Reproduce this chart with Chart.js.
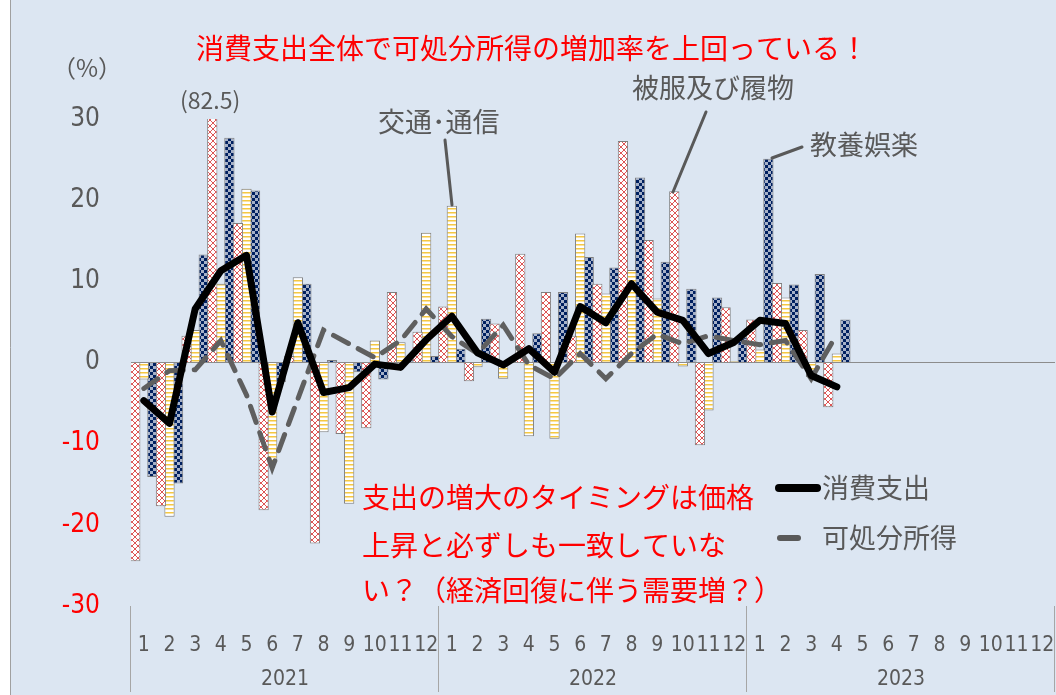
<!DOCTYPE html>
<html lang="ja">
<head>
<meta charset="utf-8">
<title>消費支出と可処分所得</title>
<script src="https://cdn.jsdelivr.net/npm/chart.js@4.4.0/dist/chart.umd.min.js"></script>
<style>
  html, body { margin: 0; padding: 0; background: #ffffff; }
  #wrap { width: 1056px; height: 695px; position: relative; }
</style>
</head>
<body>
<div id="wrap"><canvas id="myChart" width="1056" height="695"></canvas></div>
<script>
// 月ラベル (2021〜2023)
const months = ['1','2','3','4','5','6','7','8','9','10','11','12'];
const labels = [...months, ...months, ...months];
const years = ['2021', '2022', '2023'];
const yTicks = [-30, -20, -10, 0, 10, 20, 30];

// 前年同月比 (%)
const clothing = [-24.5, -17.7, 3.3, 82.5, 17.2, -18.2, 0.8, -22.3, -8.8, -8.1, 8.7, 3.8,
                  6.9, -2.3, 4.8, 13.4, 8.7, 3.3, 9.7, 27.3, 15.1, 21.1, -10.2, 6.8,
                  5.3, 9.8, 4.0, -5.5];
const transport = [-2.1, -19.0, 4.0, 9.7, 21.4, -12.3, 10.5, -8.6, -17.4, 2.7, 2.5, 16.0,
                   19.3, -0.6, -2.0, -9.1, -9.4, 15.9, 8.5, 11.4, 7.9, -0.5, -5.9, 0.2,
                   1.6, 8.0, -1.8, 1.1];
const culture = [-14.1, -14.9, 13.3, 27.7, 21.2, -2.4, 9.7, 0.3, -1.2, -2.1, 0.3, 0.8,
                 1.7, 5.4, 0.2, 3.6, 8.7, 13.0, 11.7, 22.8, 12.4, 9.1, 8.0, 3.1,
                 25.1, 9.6, 10.9, 5.3];
const spending = [-4.7, -7.5, 6.6, 11.3, 13.2, -6.1, 4.9, -3.7, -3.1, -0.2, -0.6, 2.8,
                  5.7, 1.2, -0.3, 1.7, -1.2, 6.9, 4.9, 9.7, 6.2, 5.2, 1.1, 2.5,
                  5.2, 4.8, -1.6, -3.0];
const income = [-3.2, -1.0, -0.9, 2.7, -4.0, -13.0, -4.5, 4.0, 2.3, 0.6, 2.7, 6.6,
                 3.2, 1.1, 4.6, -0.3, -2.0, 1.1, -2.0, 1.1, 3.5, 2.3, 3.3, 2.7,
                 2.2, 2.7, -2.0, 3.5];

const GRAY = '#595959';
const RED = '#ff0000';
const NARROW = "'DejaVu Sans Condensed', 'Liberation Sans', sans-serif";
const JP = "'Noto Sans CJK JP', 'Noto Sans', sans-serif";

function makePattern(size, drawTile) {
    const c = document.createElement('canvas');
    c.width = size; c.height = size;
    const g = c.getContext('2d');
    g.fillStyle = '#ffffff';
    g.fillRect(0, 0, size, size);
    drawTile(g, size);
    return document.getElementById('myChart').getContext('2d').createPattern(c, 'repeat');
}

const crossPattern = makePattern(6, (g, s) => {
    g.strokeStyle = '#dd5555';
    g.lineWidth = 1;
    g.beginPath();
    g.moveTo(0, 0); g.lineTo(s, s);
    g.moveTo(s, 0); g.lineTo(0, s);
    g.stroke();
});
const stripePattern = makePattern(4, (g, s) => {
    g.fillStyle = '#f5c842';
    g.fillRect(0, 0, s, 1.5);
});
const checkPattern = makePattern(6, (g, s) => {
    g.fillStyle = '#002060';
    g.fillRect(0, 0, 3, 3);
    g.fillRect(3, 3, 3, 3);
    g.fillStyle = 'rgba(0,32,96,0.35)';
    g.fillRect(3, 0, 3, 3);
    g.fillRect(0, 3, 3, 3);
});

const background = {
    id: 'background',
    beforeDraw(chart) {
        const ctx = chart.ctx;
        ctx.save();
        ctx.fillStyle = '#dce6f2';
        ctx.fillRect(10, 0, chart.width - 10, chart.height);
        ctx.strokeStyle = '#a0a0a0';
        ctx.lineWidth = 1;
        ctx.beginPath();
        ctx.moveTo(10.5, 0); ctx.lineTo(10.5, chart.height);
        ctx.stroke();
        ctx.restore();
    }
};

function text(ctx, str, x, y, color, size, align) {
    ctx.fillStyle = color;
    ctx.font = size + 'px ' + JP;
    ctx.textAlign = align || 'left';
    ctx.textBaseline = 'middle';
    ctx.fillText(str, x, y);
}

function line(ctx, x1, y1, x2, y2, color, width, dash) {
    ctx.save();
    ctx.strokeStyle = color;
    ctx.lineWidth = width;
    ctx.lineCap = 'round';
    ctx.setLineDash(dash || []);
    ctx.beginPath();
    ctx.moveTo(x1, y1); ctx.lineTo(x2, y2);
    ctx.stroke();
    ctx.restore();
}

const annotations = {
    id: 'annotations',
    afterDraw(chart) {
        const ctx = chart.ctx;
        const area = chart.chartArea;
        ctx.save();

        // 年ラベルと区切り線
        const w = (area.right - area.left) / years.length;
        ctx.strokeStyle = '#a6a6a6';
        ctx.lineWidth = 1;
        for (let k = 0; k <= years.length; k++) {
            const x = Math.round(area.left + k * w) - 0.5;
            ctx.beginPath();
            ctx.moveTo(x, area.bottom);
            ctx.lineTo(x, 692);
            ctx.stroke();
        }
        ctx.fillStyle = GRAY;
        ctx.font = '21px ' + NARROW;
        ctx.textAlign = 'center';
        ctx.textBaseline = 'middle';
        years.forEach((y, k) => ctx.fillText(y, area.left + (k + 0.5) * w, 680));

        // 単位・注記
        text(ctx, '（%）', 52, 68, GRAY, 24);
        text(ctx, '(82.5)', 180, 100, GRAY, 23);
        text(ctx, '消費支出全体で可処分所得の増加率を上回っている！', 196, 48, RED, 28);

        text(ctx, '交通･通信', 378, 122, GRAY, 27);
        line(ctx, 445, 140, 452, 205, GRAY, 3);
        text(ctx, '被服及び履物', 632, 88, GRAY, 27);
        line(ctx, 706, 112, 673, 192, GRAY, 3);
        text(ctx, '教養娯楽', 810, 145, GRAY, 27);
        line(ctx, 802, 147, 772, 158, GRAY, 3);

        text(ctx, '支出の増大のタイミングは価格', 362, 497, RED, 28);
        text(ctx, '上昇と必ずしも一致していな', 362, 545, RED, 28);
        text(ctx, 'い？（経済回復に伴う需要増？）', 362, 590, RED, 28);

        // 凡例
        line(ctx, 779, 488, 817, 488, '#000000', 8);
        text(ctx, '消費支出', 822, 488, GRAY, 27);
        line(ctx, 780, 538, 798, 538, GRAY, 6);
        text(ctx, '可処分所得', 822, 538, GRAY, 27);

        ctx.restore();
    }
};

const ctx = document.getElementById('myChart').getContext('2d');
const chart = new Chart(ctx, {
    data: {
        labels: labels,
        datasets: [
            {
                type: 'line',
                label: '消費支出',
                data: spending,
                borderColor: '#000000',
                borderWidth: 7,
                pointRadius: 0,
                tension: 0,
                borderJoinStyle: 'round',
                borderCapStyle: 'round',
                order: 0
            },
            {
                type: 'line',
                label: '可処分所得',
                data: income,
                borderColor: '#5f5f5f',
                borderWidth: 5,
                borderDash: [17, 11],
                pointRadius: 0,
                tension: 0,
                borderCapStyle: 'round',
                order: 1
            },
            {
                type: 'bar',
                label: '被服及び履物',
                data: clothing,
                backgroundColor: crossPattern,
                borderColor: '#7f7f7f',
                borderWidth: 1,
                order: 2
            },
            {
                type: 'bar',
                label: '交通・通信',
                data: transport,
                backgroundColor: stripePattern,
                borderColor: '#7f7f7f',
                borderWidth: 1,
                order: 3
            },
            {
                type: 'bar',
                label: '教養娯楽',
                data: culture,
                backgroundColor: checkPattern,
                borderColor: '#7f7f7f',
                borderWidth: 1,
                order: 4
            }
        ]
    },
    options: {
        responsive: false,
        animation: false,
        devicePixelRatio: 1,
        layout: { padding: { top: 119, right: 1, left: 0, bottom: 0 } },
        datasets: {
            bar: { categoryPercentage: 1.0, barPercentage: 1.2 }
        },
        plugins: {
            legend: { display: false },
            tooltip: { enabled: false }
        },
        scales: {
            x: {
                grid: { display: false },
                border: { display: false },
                ticks: {
                    autoSkip: false,
                    maxRotation: 0,
                    minRotation: 0,
                    padding: 19,
                    color: GRAY,
                    font: { family: NARROW, size: 21 }
                },
                afterFit: scale => {
                    scale.height = 89;
                    scale.paddingLeft = 0;
                    scale.paddingRight = 0;
                }
            },
            y: {
                min: -30,
                max: 30,
                afterBuildTicks: scale => { scale.ticks = yTicks.map(v => ({ value: v })); },
                grid: {
                    drawTicks: false,
                    color: c => c.tick && c.tick.value === 0 ? '#8c8c8c' : 'rgba(0,0,0,0)',
                    lineWidth: 1
                },
                border: { display: false },
                ticks: {
                    padding: 31,
                    color: c => c.tick && c.tick.value < 0 ? RED : GRAY,
                    font: { family: NARROW, size: 26 }
                },
                afterFit: scale => {
                    scale.width = 131;
                    scale.paddingTop = 0;
                    scale.paddingBottom = 0;
                }
            }
        }
    },
    plugins: [background, annotations]
});
</script>
</body>
</html>
